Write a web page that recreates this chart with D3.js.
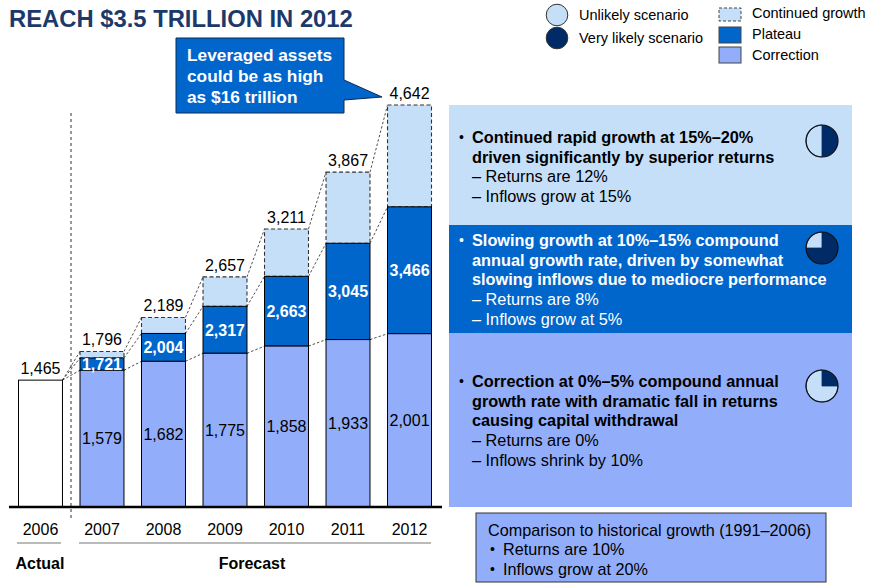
<!DOCTYPE html>
<html><head><meta charset="utf-8">
<script src="https://cdn.jsdelivr.net/npm/d3@7"></script>
<style>body{margin:0;background:#fff}svg{display:block;font-family:"Liberation Sans",Arial,sans-serif}</style>
</head><body><svg id="c" width="870" height="585"></svg>
<script>
const years = ["2006","2007","2008","2009","2010","2011","2012"];
const actual = [1465];
const correction = [null,1579,1682,1775,1858,1933,2001];
const plateau = [null,1721,2004,2317,2663,3045,3466];
const continued = [null,1796,2189,2657,3211,3867,4642];
const legendCircles = ["Unlikely scenario","Very likely scenario"];
const legendSeries = ["Continued growth","Plateau","Correction"];
const panelBold = [
  ["Continued rapid growth at 15%–20%","driven significantly by superior returns"],
  ["Slowing growth at 10%–15% compound","annual growth rate, driven by somewhat","slowing inflows due to mediocre performance"],
  ["Correction at 0%–5% compound annual","growth rate with dramatic fall in returns","causing capital withdrawal"]
];
const panelSub = [
  ["Returns are 12%","Inflows grow at 15%"],
  ["Returns are 8%","Inflows grow at 5%"],
  ["Returns are 0%","Inflows shrink by 10%"]
];
const pieShares = [0.5, 0.75, 0.25];
const calloutLines = ["Leveraged assets","could be as high","as $16 trillion"];
const historyTitle = "Comparison to historical growth (1991–2006)";
const historyItems = ["Returns are 10%","Inflows grow at 20%"];

const C_CONT="#C6DFF8", C_PLAT="#0066CC", C_CORR="#92AEFB", C_NAVY="#002B66", C_TITLE="#1B3A6B";
const svg = d3.select("#c");

// Title
svg.append("text").attr("x",9).attr("y",27).attr("font-size",23.8).attr("font-weight","bold")
  .attr("fill",C_TITLE).text("REACH $3.5 TRILLION IN 2012");

const x = d3.scaleBand().domain(years).range([18.5,431.5]).paddingInner(0.285).paddingOuter(0);
const y = d3.scaleLinear().domain([0,4642]).range([507,105]);
const bw = x.bandwidth();

// right panels
const panelY = [105,225,333,507];
const panelFill = [C_CONT,C_PLAT,C_CORR];
const panelText = ["#000","#fff","#000"];
const lineStart = [137,240,381];
panelFill.forEach((f,i)=>{
  svg.append("rect").attr("x",449).attr("y",panelY[i]).attr("width",403).attr("height",panelY[i+1]-panelY[i]).attr("fill",f);
  const g = svg.append("g").attr("fill",panelText[i]).attr("font-size",16.3);
  let yy = lineStart[i];
  g.append("text").attr("x",459).attr("y",yy).attr("dy","0.35em").attr("font-size",14).text("•");
  panelBold[i].forEach(t=>{ g.append("text").attr("x",472).attr("y",yy).attr("dy","0.35em").attr("font-weight","bold").text(t); yy+=19.8; });
  panelSub[i].forEach(t=>{ g.append("text").attr("x",472).attr("y",yy).attr("dy","0.35em").text("– "+t); yy+=19.5; });
  // pie icon
  const pc = [141,248,386][i];
  const r = 16;
  const pg = svg.append("g").attr("transform",`translate(822,${pc})`);
  const arc = d3.arc().innerRadius(0).outerRadius(r);
  const a = pieShares[i]*2*Math.PI;
  pg.append("path").attr("d",arc({startAngle:0,endAngle:a})).attr("fill",C_NAVY);
  pg.append("path").attr("d",arc({startAngle:a,endAngle:2*Math.PI})).attr("fill",C_CONT).attr("stroke",C_NAVY).attr("stroke-width",0.8);
  pg.append("circle").attr("r",r).attr("fill","none").attr("stroke","#111").attr("stroke-width",1.2);
});

// history box
svg.append("rect").attr("x",476).attr("y",513).attr("width",350).attr("height",69).attr("fill",C_CORR).attr("stroke","#333").attr("stroke-width",1);
svg.append("text").attr("x",488).attr("y",530).attr("dy","0.35em").attr("font-size",16.2).text(historyTitle);
historyItems.forEach((t,i)=>{
  svg.append("text").attr("x",490).attr("y",549+i*20).attr("dy","0.35em").attr("font-size",14).text("•");
  svg.append("text").attr("x",503).attr("y",549+i*20).attr("dy","0.35em").attr("font-size",16.2).text(t);
});

// dashed separator
svg.append("line").attr("x1",71).attr("x2",71).attr("y1",113).attr("y2",519).attr("stroke","#333").attr("stroke-width",1).attr("stroke-dasharray","3,3");

// connectors
const conn = svg.append("g").attr("stroke","#222").attr("stroke-width",0.8).attr("stroke-dasharray","2.5,2");
for(let i=1;i<years.length;i++){
  const x0 = x(years[i-1])+bw, x1 = x(years[i]);
  [correction,plateau,continued].forEach(s=>{
    const y0 = i===1 ? y(actual[0]) : y(s[i-1]);
    conn.append("line").attr("x1",x0).attr("y1",y0).attr("x2",x1).attr("y2",y(s[i]));
  });
}

// actual bar
svg.append("rect").attr("x",x(years[0])).attr("y",y(actual[0])).attr("width",bw).attr("height",y(0)-y(actual[0])).attr("fill","#fff").attr("stroke","#000").attr("stroke-width",1);
svg.append("text").attr("x",x(years[0])+bw/2).attr("y",y(actual[0])-6).attr("text-anchor","middle").attr("font-size",16).text(d3.format(",")(actual[0]));

// forecast bars
for(let i=1;i<years.length;i++){
  const bx = x(years[i]);
  svg.append("rect").attr("x",bx).attr("y",y(continued[i])).attr("width",bw).attr("height",y(plateau[i])-y(continued[i]))
    .attr("fill",C_CONT).attr("stroke","#333").attr("stroke-width",1.1).attr("stroke-dasharray","4,2.5");
  svg.append("rect").attr("x",bx).attr("y",y(plateau[i])).attr("width",bw).attr("height",y(correction[i])-y(plateau[i]))
    .attr("fill",C_PLAT).attr("stroke","#000").attr("stroke-width",1);
  svg.append("rect").attr("x",bx).attr("y",y(correction[i])).attr("width",bw).attr("height",y(0)-y(correction[i]))
    .attr("fill",C_CORR).attr("stroke","#000").attr("stroke-width",1);
  const cx = bx+bw/2;
  svg.append("text").attr("x",cx).attr("y",y(continued[i])-6).attr("text-anchor","middle").attr("font-size",16).text(d3.format(",")(continued[i]));
  svg.append("text").attr("x",cx).attr("y",(y(plateau[i])+y(correction[i]))/2).attr("dy","0.36em").attr("text-anchor","middle")
    .attr("font-size",16).attr("font-weight","bold").attr("fill","#fff").text(d3.format(",")(plateau[i]));
  svg.append("text").attr("x",cx).attr("y",(y(correction[i])+y(0))/2).attr("dy","0.36em").attr("text-anchor","middle")
    .attr("font-size",16).text(d3.format(",")(correction[i]));
}

// baseline
svg.append("line").attr("x1",9).attr("x2",442).attr("y1",507).attr("y2",507).attr("stroke","#000").attr("stroke-width",2.5);

// year labels
years.forEach(yr=>{
  svg.append("text").attr("x",x(yr)+bw/2).attr("y",529).attr("dy","0.35em").attr("text-anchor","middle").attr("font-size",16).text(yr);
});
svg.append("line").attr("x1",17).attr("x2",61).attr("y1",543).attr("y2",543).attr("stroke","#777").attr("stroke-width",1.2);
svg.append("line").attr("x1",79).attr("x2",431).attr("y1",543).attr("y2",543).attr("stroke","#777").attr("stroke-width",1.2);
svg.append("text").attr("x",40).attr("y",563).attr("dy","0.35em").attr("text-anchor","middle").attr("font-size",16).attr("font-weight","bold").text("Actual");
svg.append("text").attr("x",252).attr("y",563).attr("dy","0.35em").attr("text-anchor","middle").attr("font-size",16).attr("font-weight","bold").text("Forecast");

// callout
svg.append("path").attr("d","M176,38 H344 V80 L382,97 L344,100 V113 H176 Z").attr("fill",C_PLAT).attr("stroke","#0B2A55").attr("stroke-width",1);
calloutLines.forEach((t,i)=>{
  svg.append("text").attr("x",187).attr("y",55+i*21).attr("dy","0.36em").attr("font-size",17.3).attr("font-weight","bold").attr("fill","#fff").text(t);
});

// legend
const lg = svg.append("g").attr("font-size",14.5);
[C_CONT,C_NAVY].forEach((f,i)=>{
  lg.append("circle").attr("cx",557).attr("cy",15+i*23).attr("r",10.8).attr("fill",f).attr("stroke","#333").attr("stroke-width",1);
  lg.append("text").attr("x",579).attr("y",15+i*23).attr("dy","0.35em").text(legendCircles[i]);
});
const sq = [[8,13,C_CONT,"3,2"],[27,16,C_PLAT,null],[47,16,C_CORR,null]];
legendSeries.forEach((t,i)=>{
  const r = lg.append("rect").attr("x",719).attr("y",sq[i][0]).attr("width",22).attr("height",sq[i][1]).attr("fill",sq[i][2]).attr("stroke","#444").attr("stroke-width",1);
  if(sq[i][3]) r.attr("stroke-dasharray",sq[i][3]);
  lg.append("text").attr("x",752).attr("y",[13,34,55][i]).attr("dy","0.35em").text(t);
});
</script></body></html>
